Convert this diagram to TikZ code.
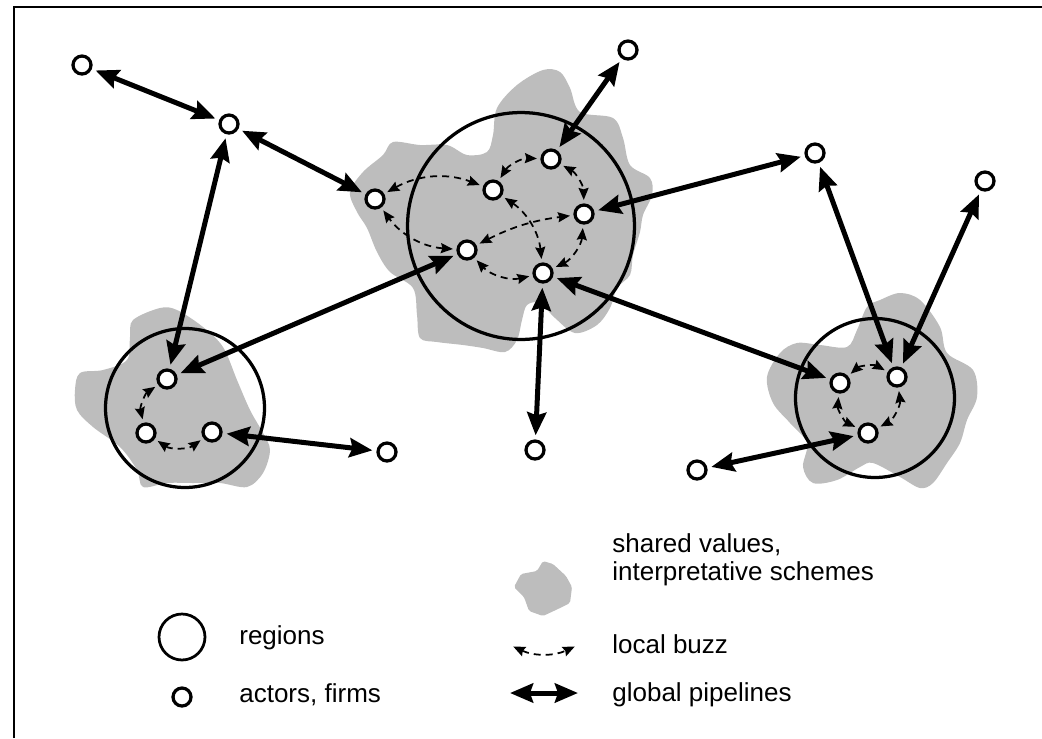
\documentclass[tikz,border=0pt]{standalone}
\usepackage{fontspec}
\setmainfont{Liberation Sans}
\usetikzlibrary{arrows.meta}

\begin{document}
\begin{tikzpicture}[x=0.02cm,y=-0.02cm,
    actor/.style={circle,draw,fill=white,line width=0.065cm,minimum size=0.36cm,inner sep=0pt},
    region/.style={circle,draw,line width=0.065cm,inner sep=0pt},
    blob/.style={fill=black!26},
    pipe/.style={{Stealth[length=0.46cm,width=0.38cm,inset=0.06cm]}-{Stealth[length=0.46cm,width=0.38cm,inset=0.06cm]},line width=0.1cm,shorten <=0.08cm,shorten >=0.08cm},
    buzz/.style={{Stealth[length=0.24cm,width=0.2cm,inset=0.03cm]}-{Stealth[length=0.24cm,width=0.2cm,inset=0.03cm]},line width=0.035cm,dash pattern=on 0.14cm off 0.1cm,shorten <=0.07cm,shorten >=0.07cm},
    legtext/.style={anchor=base west,inner sep=0pt,font=\fontsize{14.8}{15.4}\selectfont,align=left}]
                \useasboundingbox (0,0) rectangle (1042,738);
                \draw[line width=0.04cm] (14,738) -- (14,7) -- (1042,7);

                % shared values
                \fill[blob] plot[smooth cycle,tension=0.55] coordinates {(497,108) (517,85) (543,70) (560,72) (570,88) (580,112) (613,118) (623,138) (630,165) (650,178) (652,195) (643,215) (640,232) (633,255) (630,275) (617,288) (610,308) (597,325) (575,333) (555,318) (540,303) (527,305) (522,320) (517,340) (505,352) (483,348) (463,345) (437,342) (420,338) (417,315) (413,288) (390,272) (377,252) (367,228) (357,212) (350,192) (363,172) (383,155) (393,142) (420,145) (447,145) (467,155) (487,152) (493,135)};
                \fill[blob] plot[smooth cycle,tension=0.55] coordinates {(133,320) (160,308) (177,310) (203,327) (223,347) (237,380) (250,410) (263,433) (270,450) (263,473) (247,487) (220,483) (193,483) (167,483) (143,487) (137,470) (120,447) (93,427) (77,410) (75,390) (80,373) (103,370) (127,360) (130,337)};
                \fill[blob] plot[smooth cycle,tension=0.55] coordinates {(880,300) (900,293) (920,300) (940,327) (947,353) (973,370) (977,397) (967,420) (960,443) (947,463) (933,483) (920,488) (900,477) (873,463) (860,467) (837,480) (813,483) (803,467) (807,443) (790,423) (773,403) (767,377) (780,353) (797,343) (820,345) (847,347) (857,330) (867,307)};

                % regions
                \node[region,minimum size=4.54cm] (regC) at (521,226) {};
                \node[region,minimum size=3.18cm] (regL) at (185,408) {};
                \node[region,minimum size=3.18cm] (regR) at (875,398) {};

                % actors
                \node[actor] (a1) at (82,65) {};
                \node[actor] (a2) at (229,124) {};
                \node[actor] (t1) at (628,50) {};
                \node[actor] (r1) at (815,153) {};
                \node[actor] (r2) at (985,181) {};
                \node[actor] (c1) at (375,199) {};
                \node[actor] (c2) at (493,190) {};
                \node[actor] (c3) at (551,159) {};
                \node[actor] (c4) at (584,214) {};
                \node[actor] (c5) at (467,250) {};
                \node[actor] (c6) at (543,273) {};
                \node[actor] (l1) at (167,379) {};
                \node[actor] (l2) at (146,433) {};
                \node[actor] (l3) at (212,432) {};
                \node[actor] (o1) at (387,452) {};
                \node[actor] (b1) at (535,450) {};
                \node[actor] (rr1) at (840,383) {};
                \node[actor] (rr2) at (897,377) {};
                \node[actor] (rr3) at (868,433) {};
                \node[actor] (o3) at (697,470) {};

                % global pipelines
                \draw[pipe] (a1) to (a2); \draw[pipe] (a2) to (c1); \draw[pipe] (a2) to (l1); \draw[pipe] (t1) to (c3);
                \draw[pipe] (c4) to (r1); \draw[pipe] (c5) to (l1); \draw[pipe] (c6) to (b1); \draw[pipe] (c6) to (rr1);
                \draw[pipe] (r1) to (rr2); \draw[pipe] (r2) to (rr2); \draw[pipe] (l3) to (o1); \draw[pipe] (rr3) to (o3);

                % local buzz
                \draw[buzz] (c1) to[bend left=25] (c2); \draw[buzz] (c2) to[bend left=30] (c3); \draw[buzz] (c3) to[bend left=30] (c4);
                \draw[buzz] (c4) to[bend left=30] (c6); \draw[buzz] (c6) to[bend left=30] (c5); \draw[buzz] (c5) to[bend left=25] (c1);
                \draw[buzz] (c5) to[bend left=10] (c4); \draw[buzz] (c2) to[bend left=25] (c6);
                \draw[buzz] (l1) to[bend right=35] (l2); \draw[buzz] (l2) to[bend right=35] (l3);
                \draw[buzz] (rr1) to[bend left=35] (rr2); \draw[buzz] (rr1) to[bend right=35] (rr3); \draw[buzz] (rr2) to[bend left=35] (rr3);

                % legend
                \node[region,line width=0.055cm,minimum size=0.92cm] (legreg) at (182,637) {};
                \node[actor] (legact) at (182,697) {};
                \node[legtext] (txreg) at (239,644) {regions};
                \node[legtext] (txact) at (239,702) {actors, firms};
                \fill[blob,rounded corners=1pt] (543,561) -- (553,564) -- (566,576) -- (572,587) -- (570,603) -- (558,609) -- (543,616) -- (529,611) -- (524,597) -- (514,587) -- (521,574) -- (537,571) -- cycle;
                \coordinate (lb1) at (510,645); \coordinate (lb2) at (578,645);
                \draw[buzz] (lb1) to[bend right=25] (lb2);
                \coordinate (lp1) at (506,693); \coordinate (lp2) at (582,693);
                \draw[pipe] (lp1) to (lp2);
                \node[legtext] (txval) at (612,580) {shared values,\\interpretative schemes};
                \node[legtext] (txbuzz) at (612,653) {local buzz};
                \node[legtext] (txpipe) at (612,701) {global pipelines};
            \end{tikzpicture}
\end{document}
